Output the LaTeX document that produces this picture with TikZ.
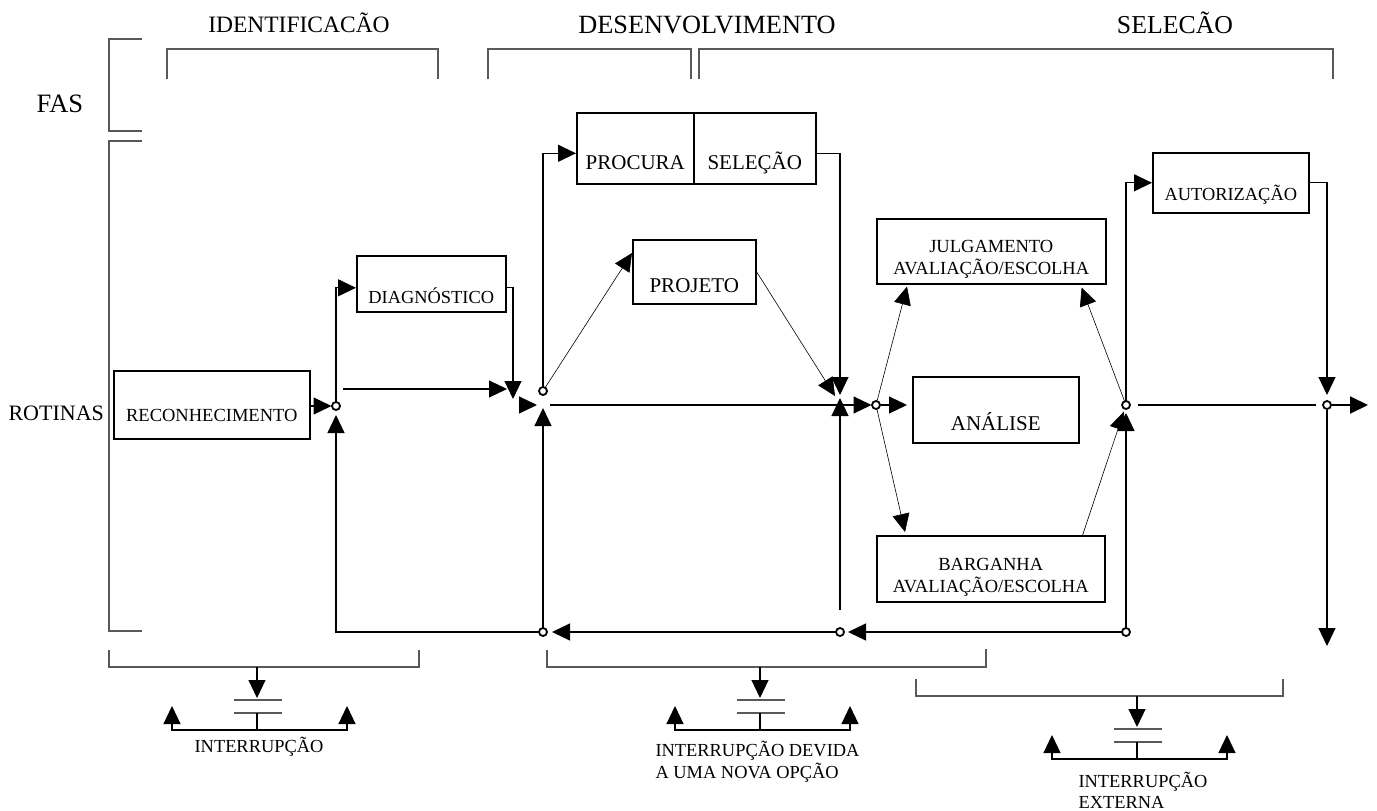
\documentclass[tikz,border=0pt]{standalone}
\usepackage{fontspec}
\setmainfont{Liberation Serif}
\usetikzlibrary{arrows.meta}

\begin{document}
\begin{tikzpicture}[x=1pt, y=-1pt, line width=1.1pt,
    seta/.style={-{Triangle[length=18pt,width=17pt]}},
    setas/.style={{Triangle[length=18pt,width=17pt]}-{Triangle[length=18pt,width=17pt]}},
    fin/.style={line width=0.6pt},
    chave/.style={draw=black!65, line width=1.2pt},
    juncao/.style={draw, line width=1.8pt, fill=white},
    fonte/.style={font=\fontsize{#1}{22}\selectfont},
    caixa/.style={draw, line width=1.6pt, inner sep=0pt, anchor=north west, fonte=18.4},
    rotulo/.style={inner sep=0pt, fonte=18.4}]
    \useasboundingbox (0,0) rectangle (1377,811);

    % Phase and routine titles
    \node[fonte=26.5, inner sep=0pt, anchor=base west] (fases) at (36,112) {FAS};
    \node[fonte=22, inner sep=0pt, anchor=base west] (rotinas) at (8,420) {ROTINAS};
    \node[fonte=23.5, inner sep=0pt, anchor=base] (ident) at (299,32) {IDENTIFICACÃO};
    \node[fonte=26.3, inner sep=0pt, anchor=base] (desenv) at (707,34) {DESENVOLVIMENTO};
    \node[fonte=25.8, inner sep=0pt, anchor=base] (selec) at (1175,34) {SELECÃO};

    % Brackets
    \draw[chave] (142,39) -- (109,39) -- (109,131) -- (142,131);
    \draw[chave] (142,141) -- (109,141) -- (109,631) -- (142,631);
    \draw[chave] (167,79) -- (167,49) -- (438,49) -- (438,79);
    \draw[chave] (488,79) -- (488,49) -- (691,49) -- (691,79);
    \draw[chave] (699,79) -- (699,49) -- (1333,49) -- (1333,79);
    \draw[chave] (109,650) -- (109,667) -- (419,667) -- (419,650);
    \draw[chave] (547,650) -- (547,667) -- (986,667) -- (986,649);
    \draw[chave] (916,679) -- (916,696) -- (1283,696) -- (1283,679);

    % Routine boxes
    \node[caixa, minimum width=196pt, text height=51pt, text depth=17pt, fonte=18.5] (recon) at (113,370) {RECONHECIMENTO};
    \node[caixa, minimum width=149pt, text height=48pt, text depth=8pt] (diag) at (356,255) {DIAGNÓSTICO};
    \node[caixa, minimum width=117pt, text height=57pt, text depth=14pt, fonte=21] (procura) at (576,112) {PROCURA};
    \node[caixa, minimum width=122pt, text height=57pt, text depth=14pt, fonte=21] (selecao) at (693,112) {SELEÇÃO};
    \node[caixa, minimum width=123pt, text height=53pt, text depth=11pt, fonte=21] (projeto) at (632,239) {PROJETO};
    \node[caixa, minimum width=229pt, text height=44.3pt, text depth=20.7pt, fonte=18.5] (julg) at (876,218)
        {\begin{tabular}{@{}c@{}}JULGAMENTO\\AVALIAÇÃO/ESCOLHA\end{tabular}};
    \node[caixa, minimum width=166pt, text height=54pt, text depth=12pt, fonte=21] (analise) at (912,376) {ANÁLISE};
    \node[caixa, minimum width=228pt, text height=45.3pt, text depth=20.7pt, fonte=18.5] (barg) at (876,535)
        {\begin{tabular}{@{}c@{}}BARGANHA\\AVALIAÇÃO/ESCOLHA\end{tabular}};
    \node[caixa, minimum width=156pt, text height=47.6pt, text depth=12.4pt] (autor) at (1152,152) {AUTORIZAÇÃO};

    % Junctions and loose ends
    \coordinate (j1) at (336,406);
    \coordinate (j2) at (543,391);
    \coordinate (k2) at (543,405);
    \coordinate (k3) at (840,405);
    \coordinate (j4) at (876,405);
    \coordinate (j5) at (1126,405);
    \coordinate (j6) at (1327,405);
    \coordinate (b2) at (543,632);
    \coordinate (b3) at (840,632);
    \coordinate (b5) at (1126,632);
    \coordinate (c3) at (840,610);
    \coordinate (r1) at (343,389);
    \coordinate (r2) at (507,389);
    \coordinate (d1) at (513,399);
    \coordinate (s1) at (519,405);
    \coordinate (saida) at (1368,405);
    \coordinate (fim) at (1327,646);

    % Identification
    \draw[seta, shorten >=4.5pt] (recon.east |- j1) -- (j1);
    \draw[seta, shorten <=4.5pt] (j1) |- ([yshift=-4pt]diag.west);
    \draw[seta] (r1) -- (r2);
    \draw[seta] ([yshift=-4pt]diag.east) -| (d1);
    \draw[seta] (s1) -- ([xshift=-6pt]k2);

    % Development
    \draw[seta, shorten <=4.5pt] (j2) |- ([yshift=-5pt]procura.west);
    \draw[seta, fin, shorten <=4.5pt] (j2) -- ([yshift=-14pt]projeto.north west);
    \draw[seta, fin] (projeto.east) -- ([xshift=-5pt, yshift=9pt]k3);
    \draw[seta] ([yshift=-5pt]selecao.east) -| ([yshift=10pt]k3);
    \draw[seta] (c3) -- ([yshift=7pt]k3);
    \draw ([xshift=7pt]k2) -- (k3);
    \draw[seta, shorten <=4.5pt] (b2) -- ([yshift=-3pt]k2);

    % Selection
    \draw[seta, shorten >=4.5pt] (k3) -- (j4);
    \draw[seta, shorten <=4.5pt, shorten >=5pt] (j4) -- (j4 -| analise.west);
    \draw[seta, fin, shorten <=4.5pt] (j4) -- ([xshift=31pt, yshift=-2pt]julg.south west);
    \draw[seta, fin, shorten <=4.5pt] (j4) -- ([xshift=29pt, yshift=3pt]barg.north west);
    \draw[seta, fin, shorten >=7pt] ([xshift=-23pt]barg.north east) -- (j5);
    \draw[seta, fin, shorten <=4.5pt] (j5) -- ([xshift=-25pt, yshift=-3pt]julg.south east);
    \draw[seta, shorten <=4.5pt] (b5) -- ([yshift=-8pt]j5);
    \draw[seta, shorten <=4.5pt] (j5) |- (autor.west);
    \draw[shorten <=12pt, shorten >=11pt] (j5) -- (j6);
    \draw[seta, shorten >=10pt] (autor.east) -| (j6);
    \draw[seta, line width=2pt, shorten <=4.5pt] (j6) -- (saida);
    \draw[seta, shorten <=4.5pt] (j6) -- (fim);

    % Feedback along the bottom
    \draw[seta, shorten <=4.5pt, shorten >=8pt] (b5) -- (b3);
    \draw[seta, shorten <=4.5pt, shorten >=9pt] (b3) -- (b2);
    \draw[seta, shorten <=4.5pt, shorten >=9pt] (b2) -| (j1);

    \foreach \p in {j1,j2,j4,j5,j6,b2,b3,b5}
        \draw[juncao] (\p) circle (4pt);

    % Interruptions
    \foreach \cx/\by in {257/667, 760/667, 1137/696} {
        \draw[seta] (\cx,\by) -- (\cx,\by+31);
        \draw[chave] (\cx-23,\by+33) -- (\cx+25,\by+33);
        \draw[chave] (\cx-23,\by+46) -- (\cx+25,\by+46);
        \draw (\cx,\by+46) -- (\cx,\by+63);
        \draw[setas] (\cx-85,\by+39) |- (\cx,\by+63) -| (\cx+90,\by+39);
    }
    \node[rotulo, anchor=base] (int1) at (259,752) {INTERRUPÇÃO};
    \node[rotulo, anchor=west, align=left] (int2) at (655,762) {INTERRUPÇÃO DEVIDA\\A UMA NOVA OPÇÃO};
    \node[rotulo, anchor=west, align=left, font=\fontsize{18.4}{20.5}\selectfont] (int3) at (1078,790.5) {INTERRUPÇÃO\\EXTERNA};
\end{tikzpicture}
\end{document}
